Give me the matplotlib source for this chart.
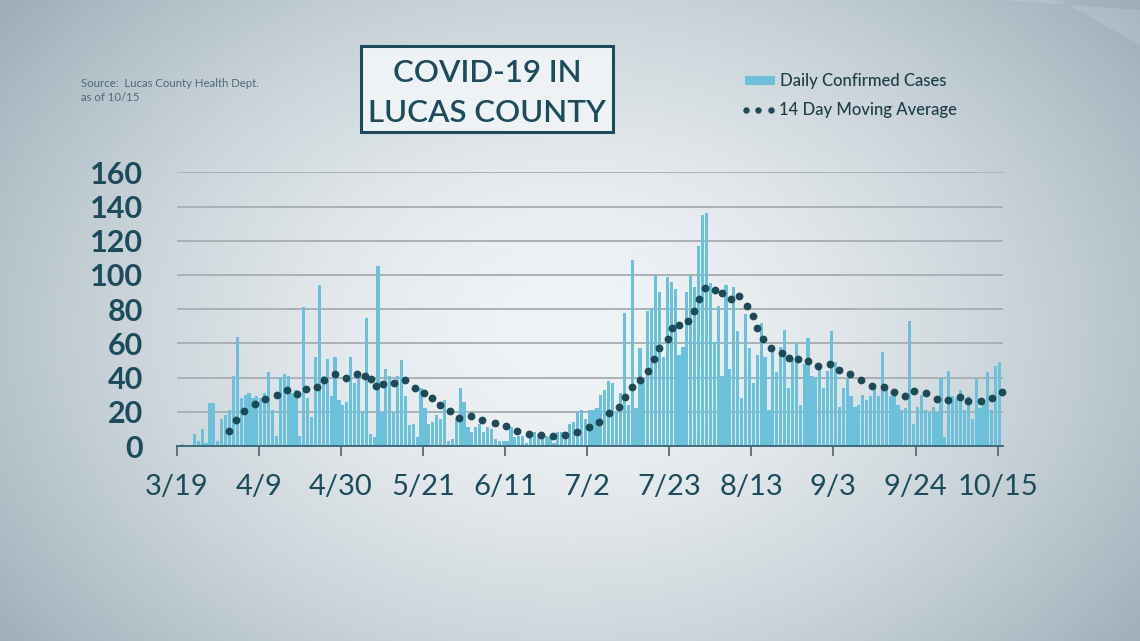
import numpy as np
import matplotlib
matplotlib.use('Agg')
import matplotlib.pyplot as plt
from matplotlib.patches import Rectangle

# daily confirmed cases, one value per day starting 3/19
cases = [0, 1, 0, 0, 7, 3, 10, 2, 25, 25,
         3, 16, 18, 21, 41, 64, 28, 30, 31, 28,
         29, 28, 31, 43, 21, 6, 40, 42, 41, 31,
         33, 6, 81, 28, 17, 52, 94, 41, 51, 29,
         52, 27, 24, 26, 52, 37, 40, 20, 75, 7,
         5, 105, 20, 45, 41, 19, 41, 50, 29, 12,
         13, 5, 34, 22, 13, 14, 18, 16, 27, 3,
         4, 16, 34, 26, 11, 8, 11, 13, 8, 11,
         10, 4, 3, 3, 3, 11, 5, 6, 6, 2,
         5, 8, 7, 6, 6, 5, 2, 8, 8, 5,
         13, 14, 20, 21, 16, 21, 21, 22, 30, 33,
         38, 37, 20, 31, 78, 24, 109, 22, 57, 39,
         79, 80, 100, 90, 52, 99, 96, 92, 53, 58,
         90, 100, 93, 117, 135, 136, 95, 61, 82, 41,
         94, 45, 93, 67, 28, 77, 57, 37, 53, 72,
         52, 21, 57, 43, 58, 68, 34, 51, 60, 24,
         48, 63, 41, 40, 45, 34, 44, 67, 49, 23,
         34, 40, 29, 23, 24, 30, 27, 29, 36, 29,
         55, 34, 29, 29, 24, 21, 22, 73, 13, 23,
         30, 21, 20, 23, 20, 40, 5, 44, 29, 28,
         33, 21, 29, 16, 39, 22, 25, 43, 21, 47,
         49]

# 14 day moving average, dots as they sit on the chart (days since 3/19)
ma_days = [13.5, 15.2, 17.3, 19.95, 22.7, 25.6, 28.3, 30.9, 33.1, 35.8,
           37.8, 40.5, 43.4, 46.0, 48.05, 49.75, 51.0, 52.7, 55.7, 58.45,
           61.0, 63.2, 65.2, 67.3, 70.0, 72.3, 75.3, 78.1, 81.3, 84.2,
           87.0, 90.0, 93.1, 96.3, 99.4, 102.5, 105.5, 108.0, 110.6, 113.1,
           114.8, 116.4, 118.6, 120.55, 122.0, 123.5, 125.6, 126.8, 128.6, 130.7,
           132.3, 133.6, 135.2, 137.6, 139.6, 141.7, 143.8, 145.9, 147.3, 148.35,
           150.1, 152.1, 154.75, 156.7, 159.0, 161.6, 164.05, 167.0, 169.5, 172.3,
           175.0, 177.9, 180.85, 183.4, 186.4, 188.7, 191.8, 194.5, 197.3, 200.3,
           202.5, 205.65, 208.6, 211.0]
ma_values = [9.0, 15.0, 20.5, 24.4, 27.7, 29.6, 32.7, 30.4, 33.1, 34.5,
             38.8, 42.3, 39.6, 41.9, 41.1, 39.2, 35.1, 36.1, 37.0, 38.4,
             33.9, 30.8, 27.9, 23.8, 20.3, 16.5, 17.5, 15.2, 13.6, 11.5,
             8.8, 6.8, 6.2, 5.7, 6.2, 8.2, 10.9, 14.2, 19.1, 23.0,
             28.8, 34.3, 38.6, 44.1, 50.7, 57.1, 62.4, 69.0, 70.6, 72.9,
             79.1, 85.8, 92.2, 91.4, 89.3, 86.0, 87.9, 82.1, 76.0, 69.2,
             62.8, 57.3, 54.6, 51.5, 50.9, 49.9, 46.8, 48.0, 44.4, 42.1,
             38.4, 35.1, 34.7, 31.8, 29.2, 32.2, 30.8, 27.3, 26.9, 28.5,
             26.1, 26.1, 28.1, 31.4]

tick_days = [0, 21, 42, 63, 84, 105, 126, 147, 168, 189, 210]
tick_labels = ['3/19', '4/9', '4/30', '5/21', '6/11', '7/2',
               '7/23', '8/13', '9/3', '9/24', '10/15']
y_ticks = [0, 20, 40, 60, 80, 100, 120, 140, 160]

BAR = '#6bc0da'
DOT = '#1d4a57'
TEAL = '#1c4b5b'

plt.rcParams['font.family'] = ['Lato', 'DejaVu Sans']

W, H = 1140, 641
fig = plt.figure(figsize=(W / 100, H / 100), dpi=100)

# background with soft radial light
bg = fig.add_axes([0, 0, 1, 1], zorder=-10)
yy, xx = np.mgrid[0:H, 0:W]
d = np.sqrt(((xx - 570) / 640.0) ** 2 + ((yy - 330) / 470.0) ** 2)
d = np.clip(d, 0, 1.2) ** 1.6
c0 = np.array([0xf1, 0xf4, 0xf6]) / 255.0
c1 = np.array([0xab, 0xba, 0xc3]) / 255.0
img = c0[None, None, :] + (c1 - c0)[None, None, :] * np.clip(d, 0, 1.2)[:, :, None]
bg.imshow(np.clip(img, 0, 1), extent=[0, W, H, 0], aspect='auto')
# faint lighter streak at the top right
bg.fill([1000, 1060, 1140, 1140], [0, 0, 45, 10], color='white', alpha=0.12, lw=0)
bg.set_xlim(0, W)
bg.set_ylim(H, 0)
bg.axis('off')

# title box
bg.add_patch(Rectangle((361, 46), 252, 86, facecolor='#eef2f4',
                       edgecolor=TEAL, lw=2.2, zorder=2))
bg.text(487, 82.5, 'COVID-19 IN', ha='center', va='baseline',
        fontsize=22.5, weight='semibold', color=TEAL, zorder=3)
bg.text(487, 122.5, 'LUCAS COUNTY', ha='center', va='baseline',
        fontsize=22.5, weight='semibold', color=TEAL, zorder=3)

# source note
bg.text(81, 87, 'Source:  Lucas County Health Dept.', ha='left', va='baseline',
        fontsize=8.2, color='#4d6b78')
bg.text(81, 101, 'as of 10/15', ha='left', va='baseline',
        fontsize=8.2, color='#4d6b78')

# legend
bg.add_patch(Rectangle((745, 75.5), 30, 9, facecolor=BAR, edgecolor='none'))
bg.text(780, 86, 'Daily Confirmed Cases', ha='left', va='baseline',
        fontsize=12, weight='medium', color='#1c3d48')
bg.plot([745.5, 758, 770.5], [110, 110, 110], 'o', ms=3.6, color=DOT)
bg.text(779, 115, '14 Day Moving Average', ha='left', va='baseline',
        fontsize=12, weight='medium', color='#1c3d48')

# main chart
ax = fig.add_axes([176.7 / W, 1 - 446 / H, (1002.7 - 176.7) / W, (446 - 172.3) / H])
ax.patch.set_alpha(0)
days = np.arange(len(cases)) + 0.5
ax.bar(days, cases, width=0.82, color=BAR, zorder=2)
ax.plot(ma_days, ma_values, 'o', ms=4.6, color=DOT, zorder=3, clip_on=False)

ax.set_xlim(0, 211.3)
ax.set_ylim(0, 160)
ax.set_yticks(y_ticks)
ax.set_xticks(tick_days)
ax.set_xticklabels(tick_labels)
ax.yaxis.grid(True, color='#a9b1b6', lw=1.4)
ax.set_axisbelow(True)
for s in ['top', 'right', 'left']:
    ax.spines[s].set_visible(False)
ax.spines['bottom'].set_color('#3e6b7a')
ax.spines['bottom'].set_linewidth(1.4)
ax.spines['bottom'].set_zorder(4)
ax.tick_params(axis='y', length=0, pad=24, labelsize=22, labelcolor=TEAL)
ax.tick_params(axis='x', length=7.5, width=1.3, color='#5b6b73', pad=13,
               labelsize=21, labelcolor=TEAL)
for t in ax.get_yticklabels():
    t.set_fontweight('bold')

fig.savefig('out.png', dpi=100)
